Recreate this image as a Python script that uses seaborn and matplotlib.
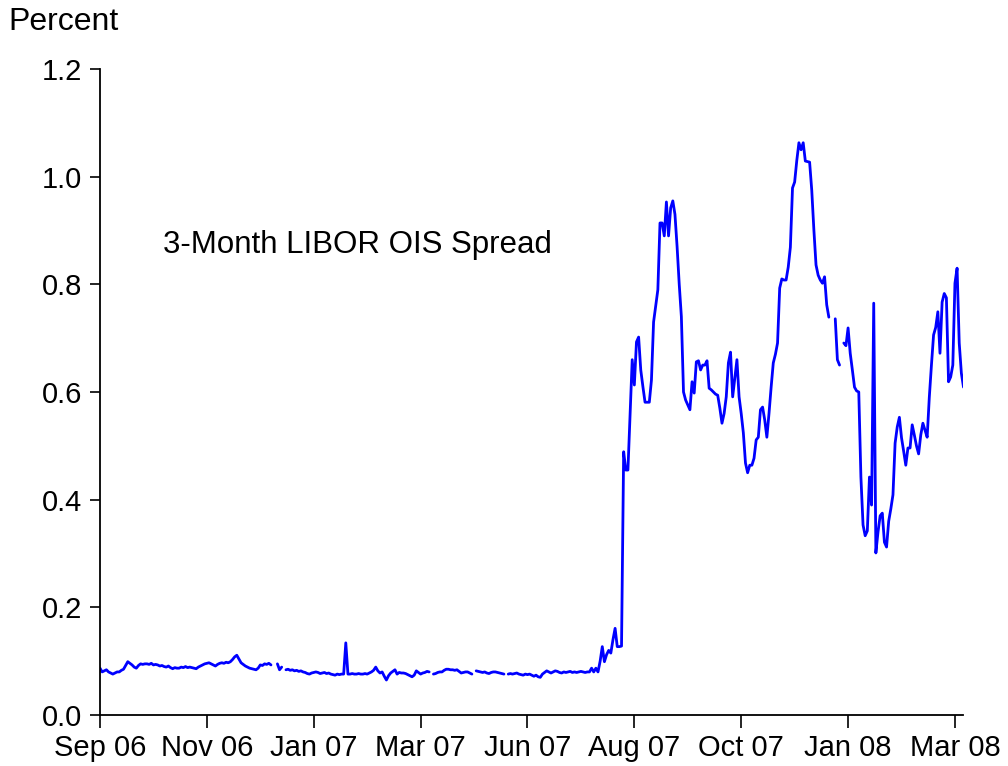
import numpy as np
import pandas as pd
import matplotlib
matplotlib.use("Agg")
import matplotlib.pyplot as plt
from matplotlib.ticker import FormatStrFormatter
import seaborn as sns

nan = np.nan

sep_dec_2006 = [
    0.087, 0.080, 0.082, 0.084, 0.080, 0.078, 0.076, 0.078, 0.080, 0.080,
    0.083, 0.085, 0.092, 0.099, 0.096, 0.093, 0.089, 0.087, 0.092, 0.095,
    0.094, 0.095, 0.095, 0.094, 0.096, 0.093, 0.094, 0.093, 0.091, 0.092,
    0.090, 0.089, 0.091, 0.088, 0.086, 0.088, 0.087, 0.087, 0.089, 0.088,
    0.090, 0.088, 0.089, 0.088, 0.087, 0.086, 0.089, 0.091, 0.093, 0.095,
    0.096, 0.097, 0.095, 0.093, 0.091, 0.094, 0.096, 0.097, 0.096, 0.098,
    0.097, 0.099, 0.103, 0.108, 0.111, 0.104, 0.097, 0.094, 0.091, 0.089,
    0.087, 0.086, 0.085, 0.084, 0.087, 0.093, 0.092, 0.095, 0.094, 0.096,
    0.093, nan, nan, 0.095, 0.084, 0.089, nan,
]
jan_jun_2007 = [
    0.084, 0.085, 0.083, 0.084, 0.082, 0.083, 0.081, 0.082, 0.080, 0.079,
    0.077, 0.076, 0.078, 0.079, 0.080, 0.079, 0.077, 0.078, 0.079, 0.077,
    0.078, 0.076, 0.075, 0.074, 0.076, 0.075, 0.076, 0.076, 0.134, 0.076,
    0.076, 0.077, 0.076, 0.076, 0.077, 0.076, 0.076, 0.077, 0.076, 0.078,
    0.080, 0.083, 0.089, 0.082, 0.078, 0.080, 0.072, 0.065, 0.073, 0.078,
    0.081, 0.084, 0.076, 0.079, 0.078, 0.078, 0.077, 0.075, 0.073, 0.071,
    0.074, 0.082, 0.079, 0.076, 0.078, 0.079, 0.081, 0.080, nan, 0.076,
    0.077, 0.079, 0.080, 0.080, 0.083, 0.085, 0.085, 0.084, 0.084, 0.083,
    0.084, 0.081, 0.078, 0.079, 0.080, 0.080, 0.078, 0.076, nan, 0.082,
    0.081, 0.080, 0.079, 0.080, 0.078, 0.077, 0.079, 0.080, 0.080, 0.079,
    0.078, 0.077, 0.076, nan, 0.076, 0.077, 0.076, 0.077, 0.078, 0.076,
    0.075, 0.074, 0.076, 0.075, 0.076, 0.074, 0.072, 0.074, 0.071, 0.070,
]
jul_sep_2007 = [
    0.076, 0.079, 0.082, 0.080, 0.078, 0.080, 0.082, 0.081, 0.079, 0.078,
    0.080, 0.079, 0.080, 0.081, 0.079, 0.080, 0.079, 0.080, 0.081, 0.080,
    0.079, 0.080, 0.080, 0.087, 0.080, 0.087, 0.080, 0.100, 0.127, 0.099,
    0.112, 0.120, 0.115, 0.140, 0.161, 0.127, 0.127, 0.128, 0.489, 0.455,
    0.455, 0.560, 0.660, 0.613, 0.693, 0.702, 0.641, 0.610, 0.581, 0.581,
    0.581, 0.622, 0.730, 0.760, 0.790, 0.914, 0.914, 0.890, 0.953, 0.890,
    0.942, 0.955, 0.930, 0.870, 0.800, 0.740, 0.600, 0.585, 0.576, 0.567,
    0.619, 0.598, 0.656, 0.658, 0.641, 0.650, 0.650, 0.658, 0.607, 0.604,
]
oct_dec_2007 = [
    0.600, 0.596, 0.594, 0.570, 0.542, 0.560, 0.591, 0.654, 0.674, 0.591,
    0.625, 0.660, 0.591, 0.560, 0.524, 0.468, 0.450, 0.464, 0.464, 0.477,
    0.511, 0.516, 0.567, 0.572, 0.548, 0.516, 0.560, 0.609, 0.654, 0.670,
    0.691, 0.793, 0.810, 0.808, 0.808, 0.832, 0.869, 0.979, 0.990, 1.030,
    1.063, 1.050, 1.063, 1.029, 1.028, 1.027, 0.975, 0.901, 0.836, 0.817,
    0.808, 0.802, 0.814, 0.762, 0.739, nan, nan, 0.736, 0.660, 0.650, nan,
]
jan_mar_2008 = [
    0.691, 0.686, 0.719, 0.672, 0.641, 0.609, 0.602, 0.600, 0.442, 0.353,
    0.333, 0.342, 0.442, 0.390, 0.765, 0.301, 0.340, 0.370, 0.375, 0.321,
    0.312, 0.360, 0.383, 0.409, 0.505, 0.535, 0.553, 0.515, 0.490, 0.464,
    0.496, 0.496, 0.539, 0.520, 0.500, 0.485, 0.520, 0.542, 0.529, 0.516,
    0.590, 0.650, 0.706, 0.720, 0.749, 0.672, 0.767, 0.783, 0.775, 0.619,
    0.628, 0.650, 0.802, 0.830, 0.691, 0.635, 0.609,
]

tick_obs = [0, 50, 100, 150, 200, 250, 300, 350, 400]
tick_labels = ["Sep 06", "Nov 06", "Jan 07", "Mar 07", "Jun 07",
               "Aug 07", "Oct 07", "Jan 08", "Mar 08"]

spread = np.array(sep_dec_2006 + jan_jun_2007 + jul_sep_2007
                  + oct_dec_2007 + jan_mar_2008, dtype=float)
obs = np.arange(len(spread))
# holidays (missing values) break the line into separate pieces
piece = np.cumsum(np.isnan(spread))
df = pd.DataFrame({"obs": obs, "spread": spread, "piece": piece}).dropna()

sns.set_style("ticks")
plt.rcParams["font.family"] = ["Liberation Sans", "DejaVu Sans"]

fig = plt.figure(figsize=(10.08, 7.66), dpi=100)
ax = fig.add_axes([100 / 1008, 1 - 715 / 766, 863.5 / 1008, 646 / 766])

sns.lineplot(data=df, x="obs", y="spread", units="piece", estimator=None,
             color="#0000ff", linewidth=2.0, ax=ax)

ax.set_xlim(0, len(spread) - 1)
ax.set_ylim(0, 1.2)
ax.set_xticks(tick_obs)
ax.set_xticklabels(tick_labels)
ax.set_yticks([0.0, 0.2, 0.4, 0.6, 0.8, 1.0, 1.2])
ax.yaxis.set_major_formatter(FormatStrFormatter("%.1f"))
ax.set_xlabel("")
ax.set_ylabel("")

sns.despine(ax=ax)
for side in ["left", "bottom"]:
    ax.spines[side].set_linewidth(1.3)
    ax.spines[side].set_color("black")
ax.tick_params(axis="x", direction="out", length=9, width=1.2, labelsize=21,
               pad=5, colors="black")
ax.tick_params(axis="y", direction="out", length=7, width=1.2, labelsize=21,
               pad=6, colors="black")

ax.text(29.5, 0.873, "3-Month LIBOR OIS Spread", fontsize=22.5,
        ha="left", va="center", color="black")
fig.text(8 / 1008, 1 - 22 / 766, "Percent", fontsize=23,
         ha="left", va="center", color="black")

fig.savefig("out.png", dpi=100)
